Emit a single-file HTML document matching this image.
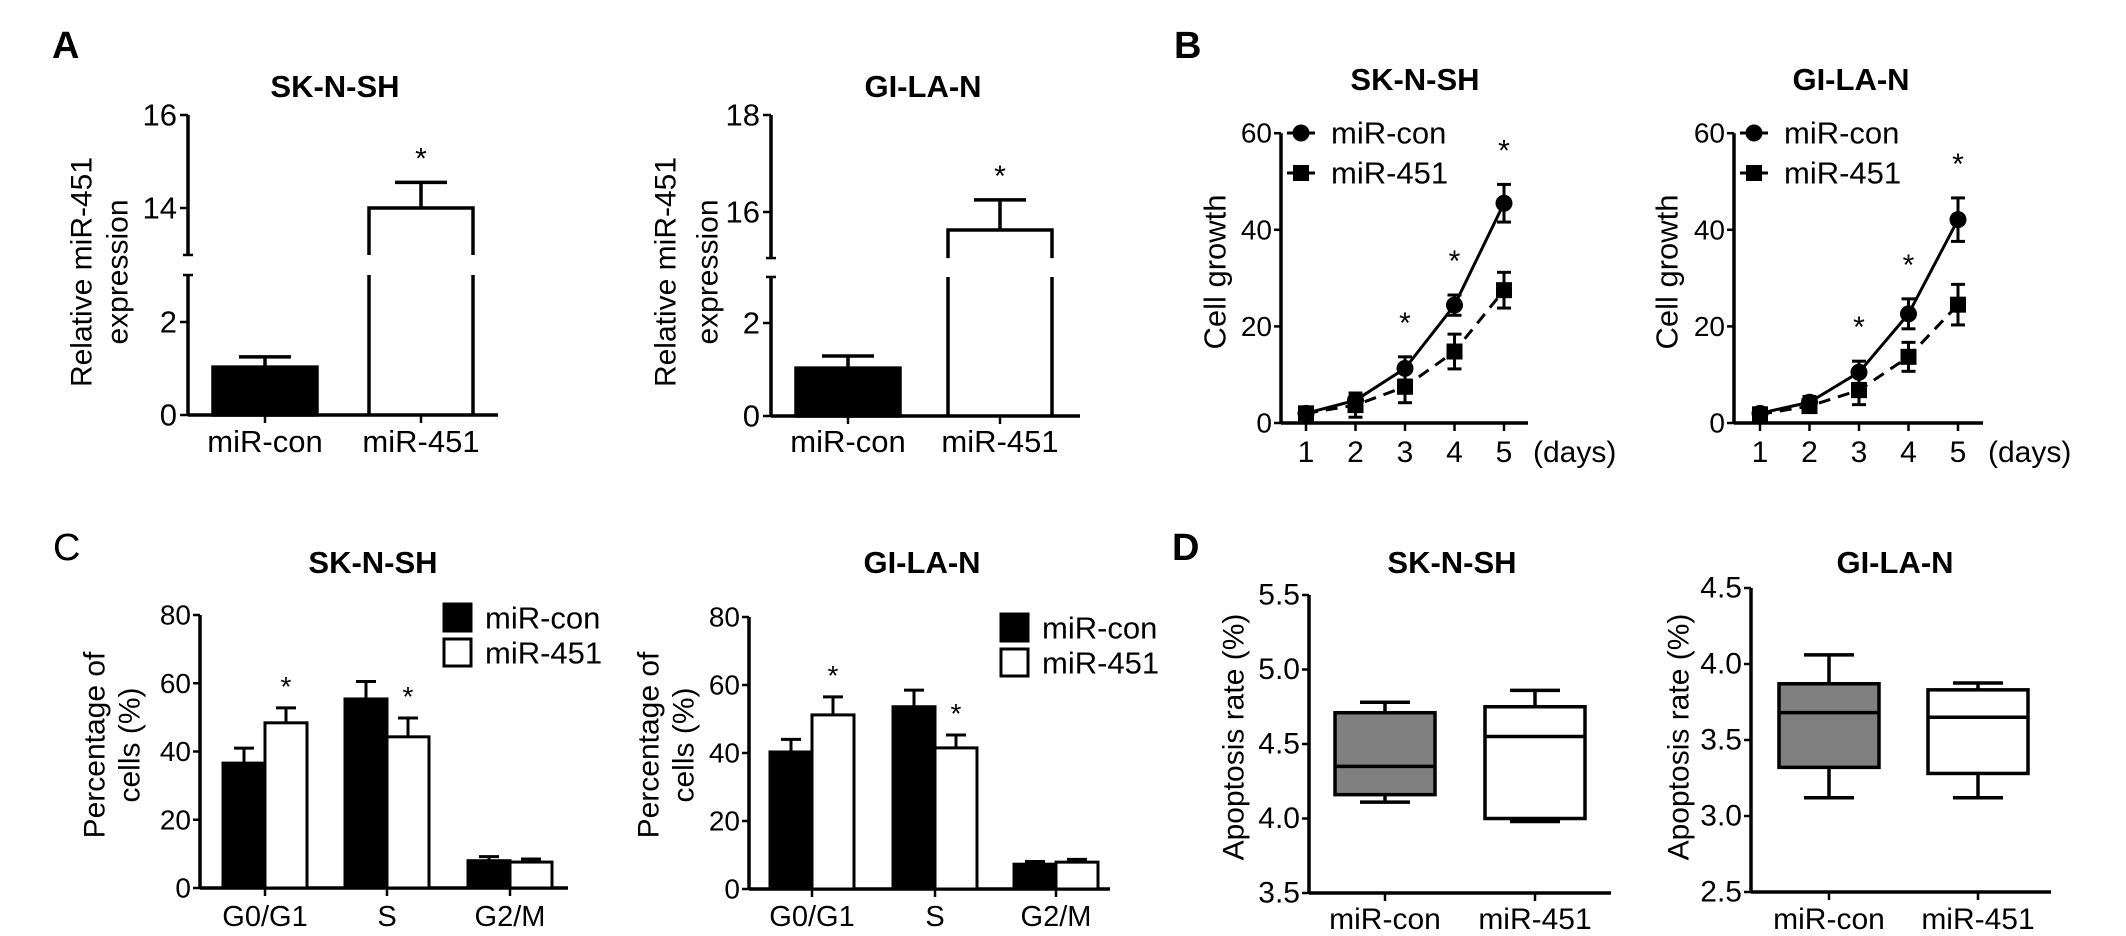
<!DOCTYPE html>
<html>
<head>
<meta charset="utf-8">
<style>
html,body{margin:0;padding:0;background:#fff;}
svg{display:block;}
text{font-family:"Liberation Sans",Arial,sans-serif;fill:#000;}
</style>
</head>
<body>
<svg id="fig" width="2126" height="936" viewBox="0 0 2126 936" xmlns="http://www.w3.org/2000/svg"></svg>
<script>
// ---------- Panel A data ----------
const aCats = ['miR-con', 'miR-451'];
const aSkVals = [1.03, 14.0];
const aSkErr = [0.22, 0.55];
const aGiVals = [1.03, 15.63];
const aGiErr = [0.26, 0.62];
const aSkLowTicks = [0, 2];
const aSkUpTicks = [14, 16];
const aGiLowTicks = [0, 2];
const aGiUpTicks = [16, 18];

// ---------- Panel B data ----------
const bDays = [1, 2, 3, 4, 5];
const bTicks = [0, 20, 40, 60];
const bSkCon = [2.0, 4.7, 11.3, 24.4, 45.5];
const bSkConErr = [0.8, 1.5, 2.4, 2.1, 3.9];
const bSk451 = [2.0, 3.7, 7.5, 14.8, 27.5];
const bSk451Err = [0.8, 2.5, 3.3, 3.6, 3.7];
const bGiCon = [2.0, 4.3, 10.5, 22.6, 42.1];
const bGiConErr = [0.7, 1.2, 2.3, 3.1, 4.5];
const bGi451 = [1.8, 3.5, 6.8, 13.7, 24.5];
const bGi451Err = [0.7, 1.0, 3.0, 3.0, 4.2];
const bStarDays = [3, 4, 5];

// ---------- Panel C data ----------
const cCats = ['G0/G1', 'S', 'G2/M'];
const cTicks = [0, 20, 40, 60, 80];
const cSkCon = [36.6, 55.4, 8.0];
const cSkConErr = [4.4, 5.1, 1.2];
const cSk451 = [48.4, 44.3, 7.6];
const cSk451Err = [4.4, 5.5, 0.9];
const cGiCon = [40.3, 53.6, 7.3];
const cGiConErr = [3.7, 4.9, 0.8];
const cGi451 = [51.2, 41.5, 7.9];
const cGi451Err = [5.3, 3.8, 0.8];
const cStarIdx = [0, 1];

// ---------- Panel D data ----------
const dCats = ['miR-con', 'miR-451'];
const dSkTicks = [3.5, 4.0, 4.5, 5.0, 5.5];
const dGiTicks = [2.5, 3.0, 3.5, 4.0, 4.5];
const dSkMin = [4.11, 3.98];
const dSkQ1 = [4.16, 4.00];
const dSkMed = [4.35, 4.55];
const dSkQ3 = [4.71, 4.75];
const dSkMax = [4.78, 4.86];
const dGiMin = [3.12, 3.12];
const dGiQ1 = [3.32, 3.28];
const dGiMed = [3.68, 3.65];
const dGiQ3 = [3.87, 3.83];
const dGiMax = [4.06, 3.875];

const NS = 'http://www.w3.org/2000/svg';
const svg = document.getElementById('fig');
const LW = 3.5;

function mk(tag, attrs, name, parent) {
  const e = document.createElementNS(NS, tag);
  for (const k in attrs) e.setAttribute(k, attrs[k]);
  
  
  (parent || svg).appendChild(e);
  return e;
}
function line(x1, y1, x2, y2, name, parent, extra) {
  const a = {x1: x1, y1: y1, x2: x2, y2: y2, stroke: '#000', 'stroke-width': LW};
  if (extra) for (const k in extra) a[k] = extra[k];
  return mk('line', a, name, parent);
}
function txt(x, y, s, size, anchor, name, parent, extra) {
  const a = {x: x, y: y, 'font-size': size, 'text-anchor': anchor || 'middle'};
  if (extra) for (const k in extra) a[k] = extra[k];
  const t = mk('text', a, name, parent);
  t.textContent = s;
  return t;
}
function vtxt(cx, cy, s, size, name, parent) {
  return txt(cx, cy, s, size, 'middle', name, parent, {transform: 'rotate(-90 ' + cx + ' ' + cy + ')', 'dominant-baseline': 'central'});
}
function fmt1(v) { return v.toFixed(1); }

// Panel letters
txt(52, 58, 'A', 38, 'start', 'panel-label-a', svg, {'font-family': '"Liberation Serif",serif', 'font-weight': 'bold'});
txt(1174, 58, 'B', 38, 'start', 'panel-label-b', svg, {'font-family': '"Liberation Serif",serif', 'font-weight': 'bold'});
txt(53, 560, 'C', 38, 'start', 'panel-label-c', svg, {'font-family': '"Liberation Serif",serif'});
txt(1172, 560, 'D', 38, 'start', 'panel-label-d', svg, {'font-family': '"Liberation Serif",serif', 'font-weight': 'bold'});

// ---------- Panel A ----------
function drawA(cfg, vals, errs, lowTicks, upTicks, id) {
  const g = mk('g', {}, 'panel-a-' + id);
  const yL = v => cfg.y0 - v * cfg.lowScale;
  const yU = v => cfg.upRefY - (v - cfg.upRef) * cfg.upScale;
  const y = v => (v <= cfg.lowTop ? yL(v) : yU(v));
  txt(cfg.titleX, 97, cfg.title, 31, 'middle', 'chart-title', g, {'font-weight': 'bold'});
  vtxt(cfg.ylab1, 272, 'Relative miR-451', 30, 'y-axis-title-line1', g);
  vtxt(cfg.ylab2, 272, 'expression', 30, 'y-axis-title-line2', g);
  line(cfg.ax, yU(cfg.upMax), cfg.ax, yU(cfg.upMin), 'y-axis-upper', g);
  line(cfg.ax - 5, yU(cfg.upMin), cfg.ax + 5, yU(cfg.upMin), 'axis-break-upper', g, {'stroke-width': 2.5});
  line(cfg.ax, yL(cfg.lowTop), cfg.ax, yL(0), 'y-axis-lower', g);
  line(cfg.ax - 5, yL(cfg.lowTop), cfg.ax + 5, yL(cfg.lowTop), 'axis-break-lower', g, {'stroke-width': 2.5});
  line(cfg.ax, yL(0), cfg.xEnd, yL(0), 'x-axis', g);
  lowTicks.concat(upTicks).forEach(t => {
    line(cfg.ax - 8, y(t), cfg.ax, y(t), 'y-tick', g, {'stroke-width': 2.5});
    txt(cfg.ax - 11, y(t), String(t), 31, 'end', 'y-tick-label', g, {'dominant-baseline': 'central'});
  });
  aCats.forEach((c, i) => {
    const cx = cfg.centers[i], w = cfg.bw;
    const x0 = cx - w / 2, x1 = cx + w / 2;
    const v = vals[i];
    line(cx, yL(0), cx, yL(0) + 8, 'x-tick', g, {'stroke-width': 2.5});
    txt(cx, 452, c, 31, 'middle', 'x-tick-label', g);
    const et = y(v + errs[i]);
    line(cx, y(v), cx, et, 'error-bar', g);
    line(cx - w / 4, et, cx + w / 4, et, 'error-cap', g);
    if (v <= cfg.lowTop) {
      mk('rect', {x: x0, y: y(v), width: w, height: yL(0) - y(v), fill: '#000', stroke: '#000', 'stroke-width': LW}, 'bar-' + c, g);
    } else {
      mk('path', {d: 'M' + x0 + ' ' + yU(cfg.upMin) + 'V' + y(v) + 'H' + x1 + 'V' + yU(cfg.upMin) +
        'M' + x0 + ' ' + yL(cfg.lowTop) + 'V' + yL(0) + 'M' + x1 + ' ' + yL(cfg.lowTop) + 'V' + yL(0),
        fill: '#fff', stroke: '#000', 'stroke-width': LW}, 'bar-' + c, g);
      txt(cx, et - 14, '*', 30, 'middle', 'significance-star', g);
    }
  });
}
drawA({title: 'SK-N-SH', titleX: 335, ylab1: 82, ylab2: 118, ax: 188, xEnd: 498, y0: 415, lowScale: 46.5, lowTop: 3.01,
  upRef: 14, upRefY: 208, upScale: 46.5, upMin: 12.99, upMax: 16, centers: [265, 421], bw: 104},
  aSkVals, aSkErr, aSkLowTicks, aSkUpTicks, 'sk');
drawA({title: 'GI-LA-N', titleX: 923, ylab1: 666, ylab2: 708, ax: 771, xEnd: 1080, y0: 416, lowScale: 46.5, lowTop: 2.99,
  upRef: 16, upRefY: 212, upScale: 48.5, upMin: 15.05, upMax: 18, centers: [848, 1000], bw: 104},
  aGiVals, aGiErr, aGiLowTicks, aGiUpTicks, 'gi');

// ---------- Panel B ----------
function drawB(cfg, con, conErr, m451, m451Err, id) {
  const g = mk('g', {}, 'panel-b-' + id);
  const y = v => cfg.y0 - v * cfg.scale;
  const x = d => cfg.x1 + (d - 1) * cfg.step;
  txt(cfg.titleX, 90, cfg.title, 31, 'middle', 'chart-title', g, {'font-weight': 'bold'});
  vtxt(cfg.ylab, 272, 'Cell growth', 31, 'y-axis-title', g);
  line(cfg.ax, y(60), cfg.ax, y(0), 'y-axis', g);
  line(cfg.ax, y(0), cfg.xEnd, y(0), 'x-axis', g);
  bTicks.forEach(t => {
    line(cfg.ax - 7, y(t), cfg.ax, y(t), 'y-tick', g, {'stroke-width': 2.5});
    txt(cfg.ax - 9, y(t), String(t), 28, 'end', 'y-tick-label', g, {'dominant-baseline': 'central'});
  });
  bDays.forEach(d => {
    line(x(d), y(0), x(d), y(0) + 8, 'x-tick', g, {'stroke-width': 2.5});
    txt(x(d), 462, String(d), 30, 'middle', 'x-tick-label', g);
  });
  txt(cfg.xEnd + 5, 462, '(days)', 30, 'start', 'x-axis-unit', g);
  const p451 = bDays.map((d, i) => x(d) + ',' + y(m451[i])).join(' ');
  mk('polyline', {points: p451, fill: 'none', stroke: '#000', 'stroke-width': 3, 'stroke-dasharray': '12 8'}, 'line-mir-451', g);
  const pCon = bDays.map((d, i) => x(d) + ',' + y(con[i])).join(' ');
  mk('polyline', {points: pCon, fill: 'none', stroke: '#000', 'stroke-width': 3}, 'line-mir-con', g);
  bDays.forEach((d, i) => {
    [[m451, m451Err], [con, conErr]].forEach(s => {
      const v = s[0][i], e = s[1][i];
      line(x(d), y(v - e), x(d), y(v + e), 'error-bar', g, {'stroke-width': 3});
      line(x(d) - 7, y(v + e), x(d) + 7, y(v + e), 'error-cap', g, {'stroke-width': 3});
      line(x(d) - 7, y(v - e), x(d) + 7, y(v - e), 'error-cap', g, {'stroke-width': 3});
    });
    mk('rect', {x: x(d) - 8, y: y(m451[i]) - 8, width: 16, height: 16, fill: '#000'}, 'point-mir-451-day' + d, g);
    mk('circle', {cx: x(d), cy: y(con[i]), r: 8.5, fill: '#000'}, 'point-mir-con-day' + d, g);
  });
  bStarDays.forEach(d => {
    const i = bDays.indexOf(d);
    txt(x(d), y(con[i] + conErr[i]) - 24, '*', 30, 'middle', 'significance-star', g);
  });
  const lx = cfg.ax + 20;
  line(lx - 14, 133, lx + 14, 133, 'legend-line-mir-con', g, {'stroke-width': 3});
  mk('circle', {cx: lx, cy: 133, r: 8.5, fill: '#000'}, 'legend-marker-mir-con', g);
  txt(lx + 30, 133, 'miR-con', 31, 'start', 'legend-label-mir-con', g, {'dominant-baseline': 'central'});
  line(lx - 14, 173, lx + 14, 173, 'legend-line-mir-451', g, {'stroke-width': 3});
  mk('rect', {x: lx - 8, y: 165, width: 16, height: 16, fill: '#000'}, 'legend-marker-mir-451', g);
  txt(lx + 30, 173, 'miR-451', 31, 'start', 'legend-label-mir-451', g, {'dominant-baseline': 'central'});
}
drawB({title: 'SK-N-SH', titleX: 1415, ylab: 1215, ax: 1281, xEnd: 1528, x1: 1306, step: 49.5, y0: 423, scale: 4.83},
  bSkCon, bSkConErr, bSk451, bSk451Err, 'sk');
drawB({title: 'GI-LA-N', titleX: 1851, ylab: 1667, ax: 1734, xEnd: 1983, x1: 1760, step: 49.5, y0: 423, scale: 4.83},
  bGiCon, bGiConErr, bGi451, bGi451Err, 'gi');

// ---------- Panel C ----------
function drawC(cfg, con, conErr, m451, m451Err, id) {
  const g = mk('g', {}, 'panel-c-' + id);
  const y = v => cfg.y0 - v * cfg.scale;
  txt(cfg.titleX, 573, cfg.title, 31, 'middle', 'chart-title', g, {'font-weight': 'bold'});
  vtxt(cfg.ylab1, 745, 'Percentage of', 30, 'y-axis-title-line1', g);
  vtxt(cfg.ylab2, 745, 'cells (%)', 30, 'y-axis-title-line2', g);
  line(cfg.ax, y(80), cfg.ax, y(0), 'y-axis', g);
  line(cfg.ax, y(0), cfg.xEnd, y(0), 'x-axis', g);
  cTicks.forEach(t => {
    line(cfg.ax - 7, y(t), cfg.ax, y(t), 'y-tick', g, {'stroke-width': 2.5});
    txt(cfg.ax - 9, y(t), String(t), 28, 'end', 'y-tick-label', g, {'dominant-baseline': 'central'});
  });
  const w = 42;
  cCats.forEach((c, i) => {
    const cx = cfg.centers[i];
    line(cx, y(0), cx, y(0) + 8, 'x-tick', g, {'stroke-width': 2.5});
    txt(cx, 926, c, 29, 'middle', 'x-tick-label', g);
    [[con, conErr, '#000', -w, 'mir-con'], [m451, m451Err, '#fff', 0, 'mir-451']].forEach(s => {
      const v = s[0][i], e = s[1][i], bx = cx + s[3];
      line(bx + w / 2, y(v), bx + w / 2, y(v + e), 'error-bar', g, {'stroke-width': 3});
      line(bx + w / 2 - 10, y(v + e), bx + w / 2 + 10, y(v + e), 'error-cap', g, {'stroke-width': 3});
      mk('rect', {x: bx, y: y(v), width: w, height: y(0) - y(v), fill: s[2], stroke: '#000', 'stroke-width': 3}, 'bar-' + s[4] + '-' + c, g);
    });
  });
  cStarIdx.forEach(i => {
    txt(cfg.centers[i] + w / 2, y(m451[i] + m451Err[i]) - 12, '*', 28, 'middle', 'significance-star', g);
  });
  mk('rect', {x: cfg.legX, y: cfg.legY, width: 27, height: 27, fill: '#000', stroke: '#000', 'stroke-width': 3}, 'legend-swatch-mir-con', g);
  txt(cfg.legX + 41, cfg.legY + 14, 'miR-con', 31, 'start', 'legend-label-mir-con', g, {'dominant-baseline': 'central'});
  mk('rect', {x: cfg.legX, y: cfg.legY + 35, width: 27, height: 27, fill: '#fff', stroke: '#000', 'stroke-width': 3}, 'legend-swatch-mir-451', g);
  txt(cfg.legX + 41, cfg.legY + 49, 'miR-451', 31, 'start', 'legend-label-mir-451', g, {'dominant-baseline': 'central'});
}
drawC({title: 'SK-N-SH', titleX: 373, ylab1: 95, ylab2: 130, ax: 200, xEnd: 568, y0: 888, scale: 3.4125,
  centers: [265, 387, 510], legX: 444, legY: 604}, cSkCon, cSkConErr, cSk451, cSk451Err, 'sk');
drawC({title: 'GI-LA-N', titleX: 922, ylab1: 649, ylab2: 684, ax: 749, xEnd: 1110, y0: 889, scale: 3.4,
  centers: [812, 935, 1056], legX: 1001, legY: 614}, cGiCon, cGiConErr, cGi451, cGi451Err, 'gi');

// ---------- Panel D ----------
function drawD(cfg, ticks, mn, q1, med, q3, mx, id) {
  const g = mk('g', {}, 'panel-d-' + id);
  const lo = ticks[0], hi = ticks[ticks.length - 1];
  const y = v => cfg.yLo - (v - lo) * cfg.scale;
  txt(cfg.titleX, 573, cfg.title, 31, 'middle', 'chart-title', g, {'font-weight': 'bold'});
  vtxt(cfg.ylab, 737, 'Apoptosis rate (%)', 30, 'y-axis-title', g);
  line(cfg.ax, y(hi), cfg.ax, y(lo), 'y-axis', g);
  line(cfg.ax, y(lo), cfg.xEnd, y(lo), 'x-axis', g);
  ticks.forEach(t => {
    line(cfg.ax - 7, y(t), cfg.ax, y(t), 'y-tick', g, {'stroke-width': 2.5});
    txt(cfg.ax - 9, y(t), fmt1(t), 30, 'end', 'y-tick-label', g, {'dominant-baseline': 'central'});
  });
  dCats.forEach((c, i) => {
    const cx = cfg.centers[i], w = 100;
    line(cx, y(lo), cx, y(lo) + 8, 'x-tick', g, {'stroke-width': 2.5});
    txt(cx, 929, c, 30, 'middle', 'x-tick-label', g);
    line(cx, y(q3[i]), cx, y(mx[i]), 'whisker-upper', g);
    line(cx - 25, y(mx[i]), cx + 25, y(mx[i]), 'whisker-cap-upper', g);
    line(cx, y(q1[i]), cx, y(mn[i]), 'whisker-lower', g);
    line(cx - 25, y(mn[i]), cx + 25, y(mn[i]), 'whisker-cap-lower', g);
    mk('rect', {x: cx - w / 2, y: y(q3[i]), width: w, height: y(q1[i]) - y(q3[i]), fill: i === 0 ? '#808080' : '#fff', stroke: '#000', 'stroke-width': LW}, 'box-' + c, g);
    line(cx - w / 2, y(med[i]), cx + w / 2, y(med[i]), 'median-' + c, g);
  });
}
drawD({title: 'SK-N-SH', titleX: 1452, ylab: 1234, ax: 1309, xEnd: 1611, yLo: 893, scale: 149, centers: [1385, 1535]},
  dSkTicks, dSkMin, dSkQ1, dSkMed, dSkQ3, dSkMax, 'sk');
drawD({title: 'GI-LA-N', titleX: 1895, ylab: 1679, ax: 1751, xEnd: 2051, yLo: 892, scale: 152, centers: [1829, 1978]},
  dGiTicks, dGiMin, dGiQ1, dGiMed, dGiQ3, dGiMax, 'gi');
</script>
</body>
</html>
